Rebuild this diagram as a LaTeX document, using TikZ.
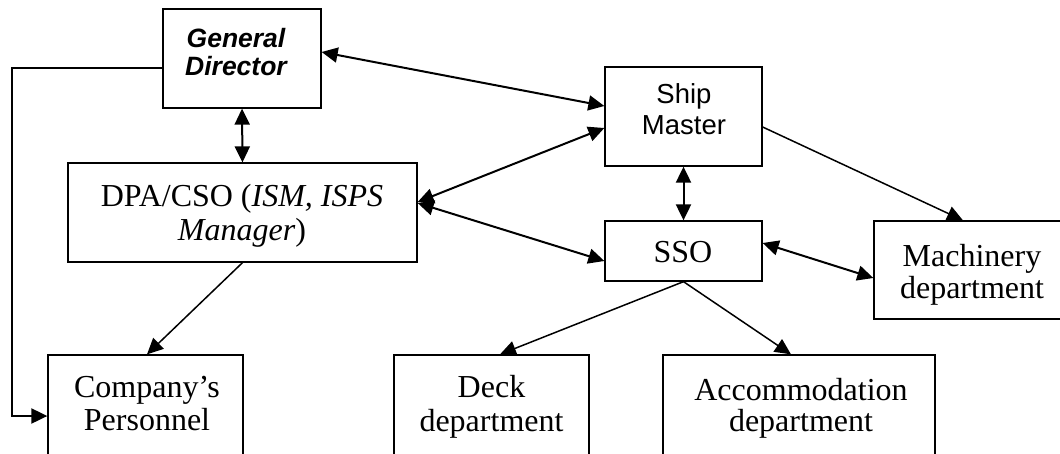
\documentclass[tikz,border=0pt]{standalone}
\usepackage{fontspec}
\setmainfont{Liberation Serif}
\newfontfamily\arial{Liberation Sans}
\usetikzlibrary{arrows.meta}
\begin{document}
\begin{tikzpicture}[x=1pt,y=-1pt,
  box/.style={draw, line width=1.3pt, inner sep=0pt},
  tx/.style={anchor=base, inner sep=0pt, font=\fontsize{32}{36}\selectfont},
  sx/.style={anchor=base, inner sep=0pt, font=\arial\fontsize{27.5}{31}\selectfont},
  gx/.style={anchor=base, inner sep=0pt, font=\arial\bfseries\itshape\fontsize{26.5}{30}\selectfont},
  hd/.tip={Triangle[length=16pt,width=15pt]},
  dbl/.style={line width=2pt, hd-hd},
  tarr/.style={line width=1.5pt, -hd},
  eb/.style={line width=2pt, -hd}]
\useasboundingbox (0,0) rectangle (1060,453);
\fill[white] (0,0) rectangle (1060,453);
\clip (0,0) rectangle (1060,453);
% boxes
\node[box, minimum width=158pt, minimum height=99pt] (gd) at (242,58.5) {};
\node[box, minimum width=349pt, minimum height=99pt] (dpa) at (242.5,212.5) {};
\node[box, minimum width=157pt, minimum height=99pt] (sm) at (683.5,116.5) {};
\node[box, minimum width=157pt, minimum height=60pt] (sso) at (683.5,251) {};
\node[box, minimum width=196pt, minimum height=98pt] (mach) at (972,270) {};
\node[box, minimum width=195pt, minimum height=106pt] (cp) at (145.5,408) {};
\node[box, minimum width=195pt, minimum height=106pt] (deck) at (491.5,408) {};
\node[box, minimum width=272pt, minimum height=106pt] (acc) at (799,408) {};
% texts
\node[gx] (t1) at (236,47) {General};
\node[gx] (t2) at (236,75) {Director};
\node[tx] (t3) at (242,206) {DPA/CSO (\textit{ISM, ISPS}};
\node[tx] (t4) at (242,240) {\textit{Manager})};
\node[sx] (t5) at (684,103) {Ship};
\node[sx] (t6) at (684,134) {Master};
\node[tx] (t7) at (683,262) {SSO};
\node[tx] (t8) at (972,266) {Machinery};
\node[tx] (t9) at (972,298) {department};
\node[tx] (t10) at (147,397) {Company’s};
\node[tx] (t11) at (147,430) {Personnel};
\node[tx] (t12) at (491.5,397) {Deck};
\node[tx] (t13) at (491.5,431) {department};
\node[tx] (t14) at (801,400) {Accommodation};
\node[tx] (t15) at (801,431) {department};
% connectors
\coordinate (k1) at (12,68);
\coordinate (k2) at (12,416);
\draw[dbl] (gd.east |- 0,52) -- (sm.west |- 0,106);
\draw[dbl] (gd.south) -- (dpa.north);
\draw[dbl] (dpa.east |- 0,202) -- (sm.west |- 0,128);
\draw[dbl] (dpa.east |- 0,203) -- (sso.west |- 0,261);
\draw[dbl] (sm.south) -- (sso.north);
\draw[tarr] (sm.east |- 0,127) -- (mach.north -| 963,0);
\draw[dbl] (sso.east |- 0,243) -- (mach.west |- 0,278);
\draw[tarr] (sso.south) -- (deck.north -| 500,0);
\draw[tarr] (sso.south) -- (acc.north -| 791,0);
\draw[tarr] (dpa.south) -- (cp.north -| 147,0);
\draw[eb] (gd.west |- 0,68) -- (k1) -- (k2) -- (cp.west |- 0,416);
\end{tikzpicture}
\end{document}
